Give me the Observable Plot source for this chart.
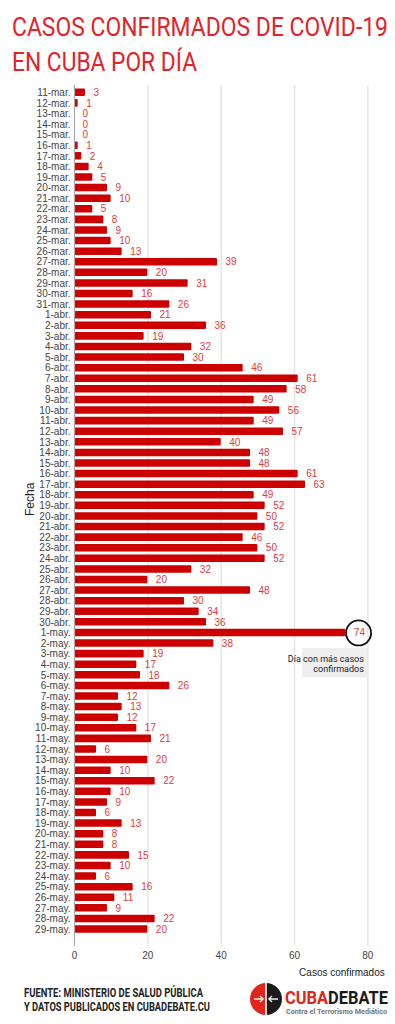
<!DOCTYPE html>
<html>
<head>
<meta charset="utf-8">
<script src="https://cdn.jsdelivr.net/npm/d3@7"></script>
<script src="https://cdn.jsdelivr.net/npm/@observablehq/plot@0.6"></script>
<style>
  html, body { margin: 0; padding: 0; background: #fff; }
  body { width: 395px; height: 1024px; overflow: hidden; font-family: "Liberation Sans", Arial, sans-serif; }
  svg { display: block; }
  .cond { font-family: Roboto, "Liberation Sans", sans-serif; }
</style>
</head>
<body>
<svg id="title" width="395" height="80">
  <text class="cond" transform="translate(12,36) scale(1,1.25)" x="0" y="0" font-size="20" fill="#e3222a" textLength="376" lengthAdjust="spacingAndGlyphs">CASOS CONFIRMADOS DE COVID-19</text>
  <text class="cond" transform="translate(12,71) scale(1,1.25)" x="0" y="0" font-size="20" fill="#e3222a" textLength="185" lengthAdjust="spacingAndGlyphs">EN CUBA POR DÍA</text>
</svg>
<div id="chart"></div>
<svg id="footer" width="395" height="44">
  <text class="cond" transform="translate(24,17) scale(1,1.25)" font-size="10.5" font-weight="bold" fill="#222" textLength="179" lengthAdjust="spacingAndGlyphs">FUENTE: MINISTERIO DE SALUD PÚBLICA</text>
  <text class="cond" transform="translate(24,30.5) scale(1,1.25)" font-size="10.5" font-weight="bold" fill="#222" textLength="186" lengthAdjust="spacingAndGlyphs">Y DATOS PUBLICADOS EN CUBADEBATE.CU</text>
  <g transform="translate(266,19)">
    <path d="M0,-16 A16,16 0 0,0 0,16 Z" fill="#e1251b"/>
    <path d="M0,-16 A16,16 0 0,1 0,16 Z" fill="#1a1a1a"/>
    <line x1="0" y1="-16" x2="0" y2="16" stroke="#fff" stroke-width="1.6"/>
    <line x1="-12" y1="0" x2="-3" y2="0" stroke="#fff" stroke-width="1.4"/>
    <path d="M-6,-3 L-3,0 L-6,3" fill="none" stroke="#fff" stroke-width="1.4"/>
    <line x1="12" y1="0" x2="3" y2="0" stroke="#fff" stroke-width="1.4"/>
    <path d="M6,-3 L3,0 L6,3" fill="none" stroke="#fff" stroke-width="1.4"/>
  </g>
  <text class="cond" transform="translate(285,23.5) scale(1,1.3)" font-size="14" font-weight="bold" textLength="103" lengthAdjust="spacingAndGlyphs"><tspan fill="#e1251b">CUBA</tspan><tspan fill="#1a1a1a">DEBATE</tspan></text>
  <text class="cond" x="286" y="34" font-size="6.5" font-weight="bold" fill="#777" textLength="101" lengthAdjust="spacingAndGlyphs">Contra el Terrorismo Mediático</text>
</svg>
<script>
// ---- data ----
const marzoDias = [11,12,13,14,15,16,17,18,19,20,21,22,23,24,25,26,27,28,29,30,31];
const marzoCasos = [3,1,0,0,0,1,2,4,5,9,10,5,8,9,10,13,39,20,31,16,26];
const abrilDias = [1,2,3,4,5,6,7,8,9,10,11,12,13,14,15,16,17,18,19,20,21,22,23,24,25,26,27,28,29,30];
const abrilCasos = [21,36,19,32,30,46,61,58,49,56,49,57,40,48,48,61,63,49,52,50,52,46,50,52,32,20,48,30,34,36];
const mayoDias = [1,2,3,4,5,6,7,8,9,10,11,12,13,14,15,16,17,18,19,20,21,22,23,24,25,26,27,28,29];
const mayoCasos = [74,38,19,17,18,26,12,13,12,17,21,6,20,10,22,10,9,6,13,8,8,15,10,6,16,11,9,22,20];
const xTicks = [0, 20, 40, 60, 80];
const xLabel = "Casos confirmados";
const yLabel = "Fecha";
const maxLabel = "1-may.";
const maxValue = 74;
const annotationText = "Día con más casos\nconfirmados";

const rows = [
  ...marzoDias.map((d, i) => ({fecha: `${d}-mar.`, casos: marzoCasos[i]})),
  ...abrilDias.map((d, i) => ({fecha: `${d}-abr.`, casos: abrilCasos[i]})),
  ...mayoDias.map((d, i) => ({fecha: `${d}-may.`, casos: mayoCasos[i]}))
];
const fechas = rows.map(d => d.fecha);

const chart = Plot.plot({
  width: 395,
  height: 900,
  marginTop: 5,
  marginBottom: 34,
  marginLeft: 74,
  marginRight: 9.3,
  style: {fontFamily: "'Liberation Sans', Arial, sans-serif", fontSize: "10px", color: "#444", background: "#fff"},
  x: {
    domain: [0, 85],
    ticks: xTicks,
    tickSize: 0,
    tickPadding: 5,
    label: null
  },
  y: {
    domain: fechas,
    paddingInner: 0.29,
    paddingOuter: 0.79,
    align: 0.21,
    tickSize: 0,
    tickPadding: 4,
    label: null
  },
  marks: [
    Plot.ruleX(xTicks.filter(t => t > 0), {stroke: "#e6e6e6", strokeWidth: 1.5}),
    Plot.barX([{fecha: "3-may."}], {x1: 62.2, x2: 80, y: "fecha", fill: "#eeeeee", insetTop: -2, insetBottom: -20}),
    Plot.barX(rows, {x: "casos", y: "fecha", fill: "#cc0000", rx: 1}),
    Plot.ruleX([0], {stroke: "#aaa", strokeWidth: 1.2}),
    Plot.text(rows, {x: "casos", y: "fecha", text: d => String(d.casos), dx: 8, textAnchor: "start", fill: "#e23b3b", fontSize: 10}),
    Plot.dot([{fecha: maxLabel, casos: maxValue}], {x: "casos", y: "fecha", r: 12.5, dx: 12.7, stroke: "#111", strokeWidth: 1.8, fill: "none"}),
    Plot.text([{fecha: "3-may."}], {x: () => 80, y: "fecha", text: () => annotationText, textAnchor: "end", dx: -4, dy: 9.5, fontSize: 9, lineHeight: 1.15, fill: "#222", fontFamily: "Roboto, sans-serif"}),
    Plot.text([xLabel], {frameAnchor: "bottom-right", text: d => d, textAnchor: "end", dy: 29, dx: -1.5, fill: "#222", fontSize: 10}),
    Plot.text([yLabel], {frameAnchor: "left", text: d => d, rotate: -90, dx: -44, fill: "#222", fontSize: 12})
  ]
});
document.getElementById("chart").appendChild(chart);
</script>
</body>
</html>
